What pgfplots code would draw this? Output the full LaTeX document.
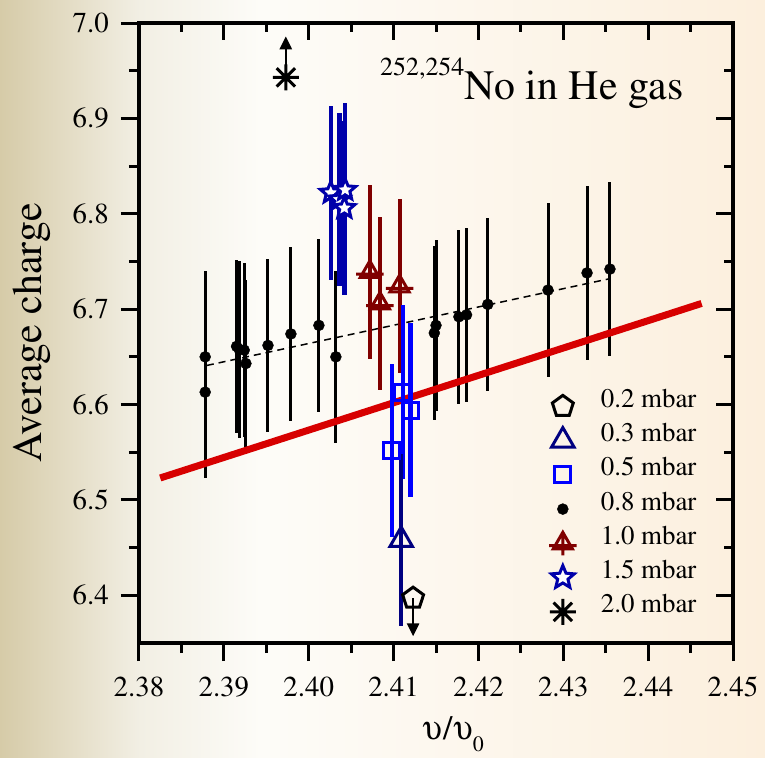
\documentclass[border=0pt]{standalone}
\usepackage[T1]{fontenc}
\usepackage{mathptmx}
\usepackage[Symbol]{upgreek}
\usepackage{pgfplots}
\pgfplotsset{compat=1.18}
\usetikzlibrary{arrows.meta}
\definecolor{bgtan}{RGB}{214,203,168}
\definecolor{bgmid}{RGB}{242,239,228}
\definecolor{bgwhite}{RGB}{253,252,248}
\definecolor{bgcream}{RGB}{252,239,221}
\definecolor{navyA}{RGB}{0,0,128}
\definecolor{starblue}{RGB}{0,0,170}
\definecolor{sqblue}{RGB}{0,0,255}
\definecolor{maroonA}{RGB}{128,0,0}
\definecolor{redline}{RGB}{215,0,0}
\newcommand{\fs}[1]{\fontsize{#1}{#1}\selectfont}

\pgfdeclareplotmark{ostar}{%
  \pgfpathmoveto{\pgfpointpolar{90}{\pgfplotmarksize}}%
  \pgfpathlineto{\pgfpointpolar{126}{0.45\pgfplotmarksize}}%
  \pgfpathlineto{\pgfpointpolar{162}{\pgfplotmarksize}}%
  \pgfpathlineto{\pgfpointpolar{198}{0.45\pgfplotmarksize}}%
  \pgfpathlineto{\pgfpointpolar{234}{\pgfplotmarksize}}%
  \pgfpathlineto{\pgfpointpolar{270}{0.45\pgfplotmarksize}}%
  \pgfpathlineto{\pgfpointpolar{306}{\pgfplotmarksize}}%
  \pgfpathlineto{\pgfpointpolar{342}{0.45\pgfplotmarksize}}%
  \pgfpathlineto{\pgfpointpolar{18}{\pgfplotmarksize}}%
  \pgfpathlineto{\pgfpointpolar{54}{0.45\pgfplotmarksize}}%
  \pgfpathclose
  \pgfusepathqfillstroke
}
\pgfdeclareplotmark{tricross}{%
  \pgfpathmoveto{\pgfpointpolar{90}{\pgfplotmarksize}}%
  \pgfpathlineto{\pgfpointpolar{210}{\pgfplotmarksize}}%
  \pgfpathlineto{\pgfpointpolar{330}{\pgfplotmarksize}}%
  \pgfpathclose
  \pgfpathmoveto{\pgfpoint{-1.25\pgfplotmarksize}{-0.2\pgfplotmarksize}}%
  \pgfpathlineto{\pgfpoint{1.25\pgfplotmarksize}{-0.2\pgfplotmarksize}}%
  \pgfpathmoveto{\pgfpoint{0pt}{-1.1\pgfplotmarksize}}%
  \pgfpathlineto{\pgfpoint{0pt}{\pgfplotmarksize}}%
  \pgfusepathqstroke
}
\pgfdeclareplotmark{asteight}{%
  \pgfpathmoveto{\pgfpointpolar{0}{\pgfplotmarksize}}\pgfpathlineto{\pgfpointpolar{180}{\pgfplotmarksize}}%
  \pgfpathmoveto{\pgfpointpolar{45}{\pgfplotmarksize}}\pgfpathlineto{\pgfpointpolar{225}{\pgfplotmarksize}}%
  \pgfpathmoveto{\pgfpointpolar{90}{\pgfplotmarksize}}\pgfpathlineto{\pgfpointpolar{270}{\pgfplotmarksize}}%
  \pgfpathmoveto{\pgfpointpolar{135}{\pgfplotmarksize}}\pgfpathlineto{\pgfpointpolar{315}{\pgfplotmarksize}}%
  \pgfusepathqstroke
}

\pgfplotstableread{
x y e
2.3878 6.650 0.090
2.3878 6.613 0.090
2.3915 6.661 0.091
2.3918 6.658 0.093
2.3924 6.657 0.091
2.3926 6.643 0.088
2.3952 6.662 0.091
2.3979 6.674 0.091
2.4012 6.683 0.091
2.4032 6.650 0.090
2.4148 6.675 0.091
2.4150 6.683 0.090
2.4177 6.692 0.091
2.4186 6.694 0.091
2.4211 6.705 0.091
2.4282 6.720 0.091
2.4328 6.738 0.091
2.4355 6.742 0.091
}\pointeight

\pgfplotstableread{
x y e
2.4072 6.739 0.091
2.4084 6.706 0.091
2.4107 6.724 0.091
}\pone

\pgfplotstableread{
x y e
2.4026 6.822 0.091
2.4036 6.815 0.091
2.4043 6.825 0.091
2.4042 6.806 0.091
}\ponefive

\pgfplotstableread{
x y e
2.4098 6.552 0.091
2.4111 6.613 0.091
2.4120 6.594 0.091
}\pfive

\pgfplotstableread{
x y e
2.4109 6.458 0.090
}\pthree

\pgfplotstableread{
x y
2.4123 6.397
}\ptwo

\pgfplotstableread{
x y
2.3973 6.943
}\ptwozero

\begin{document}
\begin{tikzpicture}
% background
\shade[left color=bgtan, right color=bgmid] (-139bp,-115bp) rectangle (1.5bp,643bp);
\shade[left color=bgmid, right color=bgwhite] (1bp,-115bp) rectangle (121.5bp,643bp);
\shade[left color=bgwhite, right color=bgcream] (121bp,-115bp) rectangle (626bp,643bp);

\begin{axis}[
  at={(0,0)}, anchor=south west,
  scale only axis, width=594bp, height=620bp,
  xmin=2.38, xmax=2.45, ymin=6.35, ymax=7.0,
  xtick={2.38,2.39,2.40,2.41,2.42,2.43,2.44,2.45},
  xticklabels={2.38,2.39,2.40,2.41,2.42,2.43,2.44,2.45},
  ytick={6.4,6.5,6.6,6.7,6.8,6.9,7.0},
  yticklabels={6.4,6.5,6.6,6.7,6.8,6.9,7.0},
  minor x tick num=1, minor y tick num=1,
  tick align=outside, xtick pos=left, ytick pos=left,
  major tick length=18bp, minor tick length=10bp,
  every tick/.style={black, line width=3bp},
  axis line style={line width=3.5bp},
  ticklabel style={inner sep=0pt, font=\fs{29}},
  xticklabel shift=16bp, yticklabel shift=12bp,
  xlabel={\fs{34}$\upupsilon$\kern1bp/\kern1bp$\upupsilon$\raisebox{-12bp}{\fs{22}0}},
  ylabel={\fs{42}Average charge},
  xlabel style={at={(axis description cs:0.529,-0.156)}, anchor=base},
  ylabel style={at={(axis description cs:-0.180,0.5)}, anchor=center},
  title={\raisebox{24bp}{\fs{26}252,254}\fs{42}No in He gas},
  title style={at={(axis description cs:0.4057,0.8677)}, anchor=base west, inner sep=0pt},
  legend style={draw=none, fill=none, at={(axis description cs:0.685,0.413)}, anchor=north west,
    row sep=4bp, nodes={inner sep=0pt, anchor=base west}},
  legend image code/.code={\path[draw=none, fill=none] (0bp,-12bp) rectangle (50bp,18bp); \draw[#1] plot coordinates {(12bp,1bp)};},
]
\addlegendimage{only marks, mark=pentagon, mark size=11bp, mark options={fill=white, draw=black, line width=3bp}}
\addlegendentry{\fs{27}0.2 mbar}
\addlegendimage{only marks, mark=triangle, mark size=13bp, mark options={fill=white, draw=navyA, line width=3bp}}
\addlegendentry{\fs{27}0.3 mbar}
\addlegendimage{only marks, mark=square, mark size=8bp, mark options={fill=white, draw=sqblue, line width=3bp}}
\addlegendentry{\fs{27}0.5 mbar}
\addlegendimage{only marks, mark=*, mark size=5.5bp, mark options={fill=black, draw=black}}
\addlegendentry{\fs{27}0.8 mbar}
\addlegendimage{only marks, mark=tricross, mark size=11bp, mark options={draw=maroonA, line width=3bp}}
\addlegendentry{\fs{27}1.0 mbar}
\addlegendimage{only marks, mark=ostar, mark size=12bp, mark options={fill=white, draw=starblue, line width=3bp}}
\addlegendentry{\fs{27}1.5 mbar}
\addlegendimage{only marks, mark=asteight, mark size=13bp, mark options={draw=black, line width=3bp}}
\addlegendentry{\fs{27}2.0 mbar}

% fit line through 0.8 mbar data
\addplot[black, line width=1.5bp, dash pattern=on 7bp off 5bp, forget plot] coordinates {(2.3880,6.641) (2.4355,6.732)};
% 0.8 mbar
\addplot[only marks, mark=*, mark size=5.5bp, black, forget plot,
  error bars/.cd, y dir=both, y explicit, error mark=none,
  error bar style={line width=3bp, black}]
  table[x=x, y=y, y error=e] {\pointeight};
% red line
\addplot[redline, line width=7bp, forget plot] coordinates {(2.3825,6.523) (2.4463,6.706)};
% 1.0 mbar
\addplot[only marks, mark=tricross, mark size=11bp, mark options={draw=maroonA, line width=3bp}, forget plot,
  error bars/.cd, y dir=both, y explicit, error mark=none,
  error bar style={line width=4bp, maroonA}]
  table[x=x, y=y, y error=e] {\pone};
% 1.5 mbar
\addplot[only marks, mark=ostar, mark size=11bp, mark options={fill=white, draw=starblue, line width=3bp}, forget plot,
  error bars/.cd, y dir=both, y explicit, error mark=none,
  error bar style={line width=4.5bp, starblue}]
  table[x=x, y=y, y error=e] {\ponefive};
% 0.5 mbar
\addplot[only marks, mark=square, mark size=8bp, mark options={fill=white, draw=sqblue, line width=3bp}, forget plot,
  error bars/.cd, y dir=both, y explicit, error mark=none,
  error bar style={line width=4.5bp, sqblue}]
  table[x=x, y=y, y error=e] {\pfive};
% 0.3 mbar
\addplot[only marks, mark=triangle, mark size=13bp, mark options={fill=white, draw=navyA, line width=3bp}, forget plot,
  error bars/.cd, y dir=both, y explicit, error mark=none,
  error bar style={line width=4bp, navyA}]
  table[x=x, y=y, y error=e] {\pthree};
% 0.2 mbar
\addplot[only marks, mark=pentagon, mark size=11bp, mark options={fill=white, draw=black, line width=3bp}, forget plot]
  table[x=x, y=y] {\ptwo};
\addplot[black, line width=2.5bp, -{Triangle[length=13bp,width=12bp]}, quiver={u=0, v=-0.040}, forget plot]
  table[x=x, y=y] {\ptwo};
% 2.0 mbar
\addplot[only marks, mark=asteight, mark size=13bp, mark options={draw=black, line width=3bp}, forget plot]
  table[x=x, y=y] {\ptwozero};
\addplot[black, line width=2.5bp, -{Triangle[length=13bp,width=12bp]}, quiver={u=0, v=0.043}, forget plot]
  table[x=x, y=y] {\ptwozero};
\end{axis}

\begin{axis}[
  at={(0,0)}, anchor=south west,
  scale only axis, width=594bp, height=620bp,
  xmin=2.38, xmax=2.45, ymin=6.35, ymax=7.0,
  xtick={2.38,2.39,2.40,2.41,2.42,2.43,2.44,2.45},
  ytick={6.4,6.5,6.6,6.7,6.8,6.9,7.0},
  minor x tick num=1, minor y tick num=1,
  tick align=inside, xtick pos=right, ytick pos=right,
  major tick length=17bp, minor tick length=9bp,
  every tick/.style={black, line width=3bp},
  axis line style={line width=3.5bp},
  xticklabels={}, yticklabels={},
]
\addplot[draw=none, forget plot] coordinates {(2.40,6.5)};
\end{axis}
\pgfresetboundingbox
\path (-139bp,-115bp) rectangle (626bp,643bp);
\end{tikzpicture}
\end{document}
